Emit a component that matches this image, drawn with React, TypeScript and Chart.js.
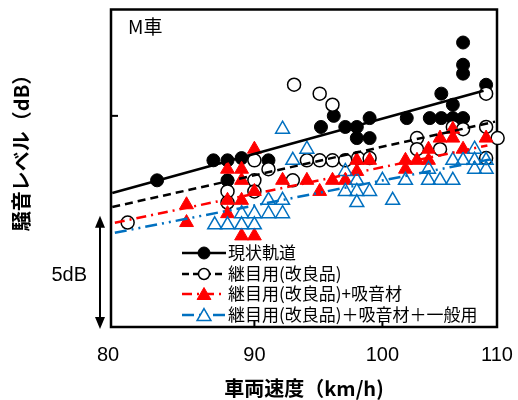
import React, { useEffect, useRef } from 'react';
import { Chart, registerables } from 'chart.js';

Chart.register(...registerables);

// ---- data (speed km/h, level dB) ----
const seriesNames = ['現状軌道', '継目用(改良品)', '継目用(改良品)+吸音材', '継目用(改良品)＋吸音材＋一般用'];

const blackSpeed = [82.4, 86.8, 87.9, 87.9, 89.0, 91.1, 95.2, 96.2, 97.1, 98.0, 98.0, 99.0, 99.0, 101.9, 103.7, 104.6, 104.6, 105.5, 105.5, 106.3, 106.3, 106.3, 106.3, 108.1];
const blackLevel = [76.6, 77.5, 77.5, 76.6, 77.6, 77.5, 79.0, 79.5, 79.0, 79.0, 78.5, 79.4, 78.5, 79.4, 79.4, 80.5, 79.4, 80.0, 79.4, 79.4, 82.8, 81.8, 81.4, 80.9];

const openSpeed = [80.1, 87.9, 87.9, 90.0, 90.0, 90.0, 91.1, 93.0, 93.1, 95.1, 96.1, 94.1, 95.1, 96.1, 97.1, 98.1, 99.0, 102.7, 102.7, 104.5, 105.5, 106.3, 108.1, 108.1, 108.1, 109.0];
const openLevel = [74.7, 76.1, 75.6, 77.5, 76.6, 76.1, 77.1, 76.6, 80.9, 80.5, 80.0, 77.5, 77.5, 77.5, 77.5, 77.6, 77.6, 78.5, 78.0, 78.0, 79.0, 78.9, 79.0, 80.5, 77.6, 78.5];

const redSpeed = [84.7, 84.7, 90.0, 87.9, 89.0, 89.0, 90.0, 87.9, 89.0, 87.9, 89.0, 90.0, 92.2, 94.1, 95.1, 96.1, 97.1, 98.0, 98.0, 99.0, 101.8, 101.8, 102.7, 103.6, 103.6, 104.5, 105.5, 105.5, 106.3, 108.1];
const redLevel = [75.5, 74.7, 78.0, 77.1, 77.1, 76.6, 76.1, 75.7, 75.7, 75.1, 74.1, 74.1, 76.6, 76.6, 76.1, 76.6, 76.6, 77.5, 77.0, 77.5, 77.5, 77.1, 77.5, 78.0, 77.5, 78.5, 78.9, 78.5, 78.0, 78.5];

const blueSpeed = [86.9, 87.9, 89.0, 90.0, 89.0, 90.0, 91.1, 92.2, 91.1, 92.2, 92.2, 93.0, 94.1, 97.1, 98.0, 97.1, 98.0, 99.0, 98.0, 100.0, 100.8, 101.8, 103.6, 103.6, 104.5, 105.5, 105.5, 106.3, 107.2, 107.2, 108.1, 107.2, 108.1];
const blueLevel = [74.6, 74.6, 74.6, 74.6, 75.1, 75.1, 75.1, 75.1, 75.7, 75.7, 78.9, 77.5, 78.0, 77.0, 76.6, 76.1, 76.1, 76.1, 75.6, 76.6, 75.7, 76.6, 77.1, 76.6, 76.6, 76.6, 77.5, 77.5, 78.0, 77.5, 77.5, 77.1, 77.1];

// trend lines (endpoints)
const blackTrendSpeed = [78.9, 107.9];
const blackTrendLevel = [76.03, 80.63];
const openTrendSpeed = [78.9, 108.8];
const openTrendLevel = [75.4, 79.24];
const redTrendSpeed = [79.1, 108.2];
const redTrendLevel = [74.69, 78.17];
const blueTrendSpeed = [79.1, 108.4];
const blueTrendLevel = [74.24, 77.54];

const xTickLabels = ['80', '90', '100', '110'];
const xTickValues = [80, 90, 100, 110];
const xTickMarks = [90, 100];
const yTickMarks = [79.5];
const arrowFrom = 70;
const arrowTo = 75;

const BLUE = '#0070C0';
const RED = '#FF0000';

const pts = (xs: number[], ys: number[]) => xs.map((x, i) => ({ x, y: ys[i] }));

function drawMarker(ctx: CanvasRenderingContext2D, style: string, x: number, y: number, r: number, fill: string | null, stroke: string, lw: number) {
  ctx.beginPath();
  if (style === 'circle') {
    ctx.arc(x, y, r, 0, Math.PI * 2);
  } else {
    let rad = 0;
    ctx.moveTo(x + Math.sin(rad) * r, y - Math.cos(rad) * r);
    rad += (2 * Math.PI) / 3;
    ctx.lineTo(x + Math.sin(rad) * r, y - Math.cos(rad) * r);
    rad += (2 * Math.PI) / 3;
    ctx.lineTo(x + Math.sin(rad) * r, y - Math.cos(rad) * r);
    ctx.closePath();
  }
  if (fill) {
    ctx.fillStyle = fill;
    ctx.fill();
  }
  ctx.lineWidth = lw;
  ctx.strokeStyle = stroke;
  ctx.setLineDash([]);
  ctx.stroke();
}

const legendItems = [
  { dash: [] as number[], color: '#000', style: 'circle', r: 6, fill: '#000', lw: 1 },
  { dash: [7, 4], color: '#000', style: 'circle', r: 5.5, fill: '#fff', lw: 1.5 },
  { dash: [10, 5, 2, 5], color: RED, style: 'triangle', r: 8, fill: RED, lw: 1 },
  { dash: [12, 5, 2, 5, 2, 5], color: BLUE, style: 'triangle', r: 8, fill: '#fff', lw: 1.5 },
];

const decorPlugin = {
  id: 'decor',
  beforeDatasetsDraw(chart: any) {
    const { ctx, chartArea: a } = chart;
    const xs = chart.scales.x;
    const ys = chart.scales.y;
    ctx.save();
    ctx.strokeStyle = '#000';
    ctx.lineWidth = 2.5;
    ctx.strokeRect(a.left, a.top, a.right - a.left, a.bottom - a.top);
    ctx.lineWidth = 2;
    xTickMarks.forEach((v) => {
      const px = xs.getPixelForValue(v);
      ctx.beginPath();
      ctx.moveTo(px, a.bottom);
      ctx.lineTo(px, a.bottom - 6);
      ctx.stroke();
    });
    yTickMarks.forEach((v) => {
      const py = ys.getPixelForValue(v);
      ctx.beginPath();
      ctx.moveTo(a.left, py);
      ctx.lineTo(a.left + 7, py);
      ctx.stroke();
    });
    ctx.restore();
  },
  afterDraw(chart: any) {
    const { ctx, chartArea: a } = chart;
    const xs = chart.scales.x;
    const ys = chart.scales.y;
    ctx.save();
    ctx.fillStyle = '#000';
    // x tick labels (end labels sit at the frame edges)
    ctx.font = '20px "Liberation Sans", Arial, sans-serif';
    ctx.textAlign = 'center';
    ctx.textBaseline = 'middle';
    xTickValues.forEach((v, i) => {
      let px = xs.getPixelForValue(v);
      if (i === 0) px = a.left - 3;
      if (i === xTickValues.length - 1) px = a.right;
      ctx.fillText(xTickLabels[i], px, 355);
    });
    // x title
    ctx.font = 'bold 20px "Noto Sans CJK JP", sans-serif';
    ctx.fillText('車両速度（km/h)', (a.left + a.right) / 2, 388);
    // y title
    ctx.save();
    ctx.translate(21, 148);
    ctx.rotate(-Math.PI / 2);
    ctx.fillText('騒音レベル（dB）', 0, 0);
    ctx.restore();
    // panel title
    ctx.font = '19px "Noto Sans CJK JP", sans-serif';
    ctx.textAlign = 'left';
    ctx.fillText('M車', a.left + 17, 27);
    // 5dB arrow
    const yTop = ys.getPixelForValue(arrowTo);
    const yBot = ys.getPixelForValue(arrowFrom) + 2;
    const ax = 100;
    ctx.strokeStyle = '#000';
    ctx.lineWidth = 2;
    ctx.beginPath();
    ctx.moveTo(ax, yTop + 8);
    ctx.lineTo(ax, yBot - 8);
    ctx.stroke();
    ctx.beginPath();
    ctx.moveTo(ax, yTop);
    ctx.lineTo(ax - 5, yTop + 12);
    ctx.lineTo(ax + 5, yTop + 12);
    ctx.closePath();
    ctx.fill();
    ctx.beginPath();
    ctx.moveTo(ax, yBot);
    ctx.lineTo(ax - 5, yBot - 12);
    ctx.lineTo(ax + 5, yBot - 12);
    ctx.closePath();
    ctx.fill();
    ctx.font = '20px "Liberation Sans", Arial, sans-serif';
    ctx.textAlign = 'right';
    ctx.fillText('5dB', 87, 275);
    // legend
    const rows = [253, 274, 294, 315];
    ctx.font = '17px "Noto Sans CJK JP", sans-serif';
    ctx.textAlign = 'left';
    legendItems.forEach((it, i) => {
      const y = rows[i];
      ctx.beginPath();
      ctx.setLineDash(it.dash);
      ctx.strokeStyle = it.color;
      ctx.lineWidth = 2.5;
      ctx.moveTo(182, y);
      ctx.lineTo(226, y);
      ctx.stroke();
      ctx.setLineDash([]);
      drawMarker(ctx, it.style, 204, it.style === 'triangle' ? y + 1.5 : y, it.r, it.fill, it.color, it.lw);
      ctx.fillStyle = '#000';
      ctx.fillText(seriesNames[i], 228, y);
    });
    ctx.restore();
  },
};

export default function App() {
  const ref = useRef<HTMLCanvasElement | null>(null);
  useEffect(() => {
    if (!ref.current) return;
    const scatterBase = { type: 'scatter' as const, showLine: false, clip: false as any };
    const trendBase = { type: 'scatter' as const, showLine: true, pointRadius: 0, borderWidth: 2.5, order: 0, clip: false as any };
    const chart = new Chart(ref.current, {
      type: 'scatter',
      data: {
        datasets: [
          { ...scatterBase, label: seriesNames[0], data: pts(blackSpeed, blackLevel), pointStyle: 'circle', pointRadius: 6.5, backgroundColor: '#000', borderColor: '#000', borderWidth: 1, order: 4 },
          { ...scatterBase, label: seriesNames[1], data: pts(openSpeed, openLevel), pointStyle: 'circle', pointRadius: 6.5, backgroundColor: '#fff', borderColor: '#000', borderWidth: 1.5, order: 3 },
          { ...scatterBase, label: seriesNames[2], data: pts(redSpeed, redLevel), pointStyle: 'triangle', pointRadius: 8, backgroundColor: RED, borderColor: RED, borderWidth: 1, order: 2 },
          { ...scatterBase, label: seriesNames[3], data: pts(blueSpeed, blueLevel), pointStyle: 'triangle', pointRadius: 8, backgroundColor: 'rgba(255,255,255,0)', borderColor: BLUE, borderWidth: 1.5, order: 1 },
          { ...trendBase, label: 't0', data: pts(blackTrendSpeed, blackTrendLevel), borderColor: '#000', borderDash: [] },
          { ...trendBase, label: 't1', data: pts(openTrendSpeed, openTrendLevel), borderColor: '#000', borderDash: [8, 5] },
          { ...trendBase, label: 't2', data: pts(redTrendSpeed, redTrendLevel), borderColor: RED, borderDash: [10, 5, 2, 5] },
          { ...trendBase, label: 't3', data: pts(blueTrendSpeed, blueTrendLevel), borderColor: BLUE, borderDash: [12, 5, 2, 5, 2, 5] },
        ] as any,
      },
      options: {
        responsive: false,
        animation: false,
        devicePixelRatio: 1,
        layout: { padding: { left: 111, right: 21, top: 7, bottom: 73 } },
        scales: {
          x: { type: 'linear', min: 78.8, max: 108.95, display: false },
          y: { type: 'linear', min: 70, max: 84.2857, display: false },
        },
        plugins: { legend: { display: false }, tooltip: { enabled: false } },
      },
      plugins: [decorPlugin],
    });
    return () => chart.destroy();
  }, []);
  return (
    <div style={{ position: 'absolute', left: 0, top: 0, width: 518, height: 400, background: '#fff' }}>
      <canvas ref={ref} width={518} height={400} style={{ display: 'block' }} />
    </div>
  );
}
